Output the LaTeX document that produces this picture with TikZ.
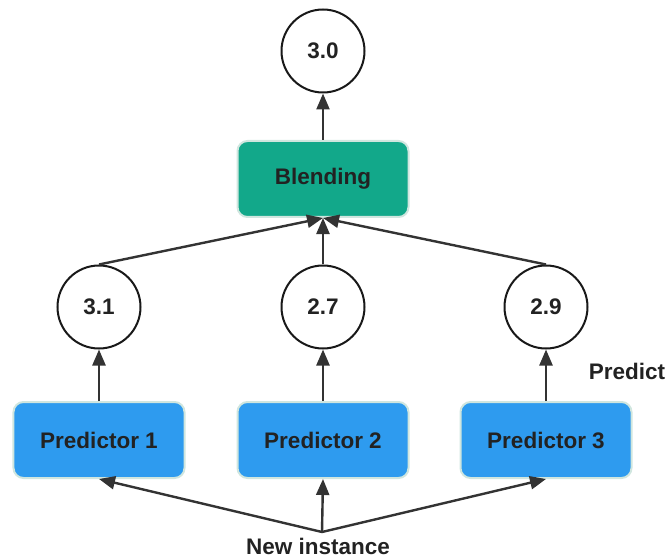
\documentclass[tikz,border=0pt]{standalone}
\usepackage{fontspec}
\setmainfont{Liberation Sans}
\usetikzlibrary{arrows.meta}
\definecolor{predblue}{HTML}{2E9BEF}
\definecolor{blendgreen}{HTML}{12A88A}
\definecolor{edgegray}{HTML}{D0E6DF}
\definecolor{linegray}{HTML}{333333}
\definecolor{textgray}{HTML}{222222}

\begin{document}
\begin{tikzpicture}
  [x=1bp,y=-1bp,every node/.style={font=\fontsize{22.5bp}{27bp}\selectfont\bfseries,text=textgray},
   value/.style={circle,draw=black!90,line width=2bp,minimum size=83bp,inner sep=0pt,fill=white},
   box/.style={rectangle,rounded corners=10bp,draw=edgegray,line width=2bp,minimum width=171bp,minimum height=76bp},
   arr/.style={draw=linegray,line width=2.4bp,-{Triangle[length=16bp,width=13bp]}}]
  \useasboundingbox (0,0) rectangle (669,560);
  \node[value] (out) at (323,51) {3.0};
  \node[box,fill=blendgreen] (blend) at (323,179) {Blending};
  \node[value] (v1) at (99,307) {3.1};
  \node[value] (v2) at (323,307) {2.7};
  \node[value] (v3) at (546,307) {2.9};
  \node[box,fill=predblue] (p1) at (99,440) {Predictor 1};
  \node[box,fill=predblue] (p2) at (323,440) {Predictor 2};
  \node[box,fill=predblue] (p3) at (546,440) {Predictor 3};
  \node (predict) at (627,371) {Predict};
  \node (inst) at (318,546) {New instance};
  \coordinate (split) at (322,532);
  \foreach \from/\to in {blend.north/out.south,v1.north/blend.south,v2.north/blend.south,v3.north/blend.south,p1.north/v1.south,p2.north/v2.south,p3.north/v3.south,split/p1.south,split/p2.south,split/p3.south}
    \draw[arr] (\from) -- (\to);

\end{tikzpicture}
\end{document}
